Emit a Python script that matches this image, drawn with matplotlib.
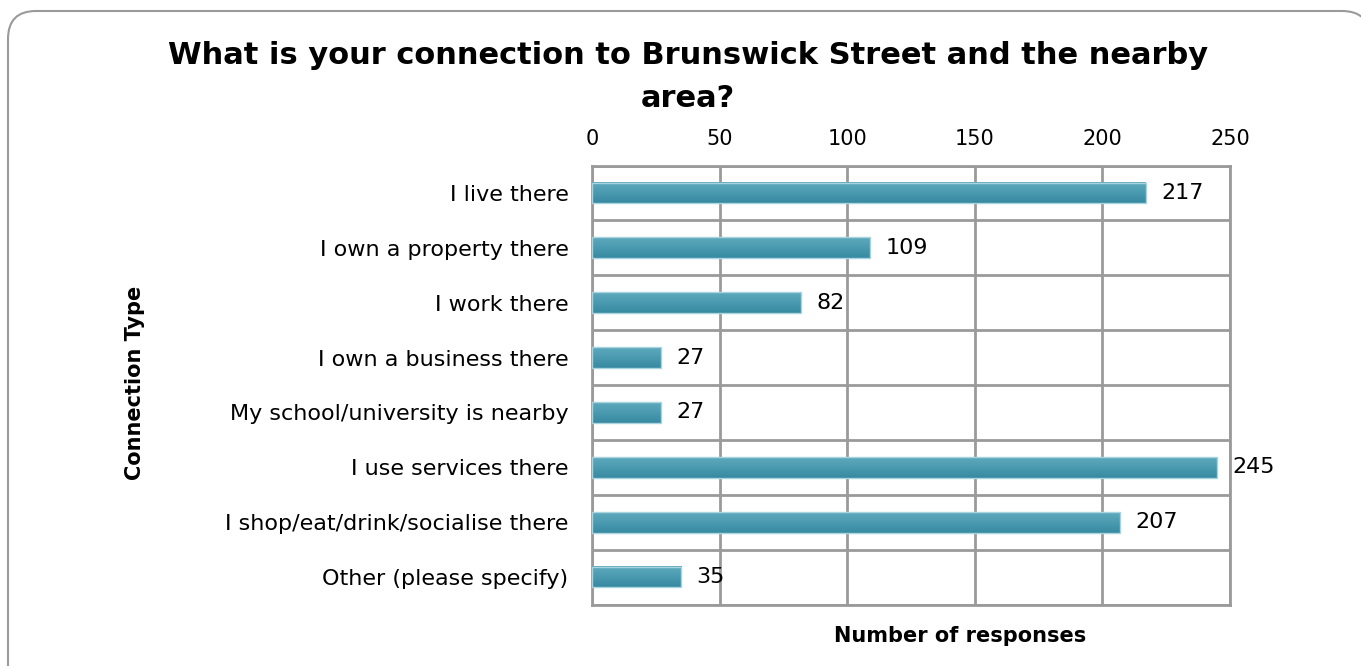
import numpy as np
import matplotlib.pyplot as plt
from matplotlib.patches import FancyBboxPatch
from matplotlib.colors import LinearSegmentedColormap

categorias = ['I live there', 'I own a property there', 'I work there',
              'I own a business there', 'My school/university is nearby',
              'I use services there', 'I shop/eat/drink/socialise there',
              'Other (please specify)']
respuestas = [217, 109, 82, 27, 27, 245, 207, 35]
ticks_x = [0, 50, 100, 150, 200, 250]

gris = '#9a9a9a'

fig = plt.figure(figsize=(13.61, 6.66), dpi=100)

# marco redondeado de la diapositiva (en pulgadas)
marco = FancyBboxPatch((0.08, -0.5), 13.62, 7.05,
                       boxstyle='round,pad=0,rounding_size=0.28',
                       transform=fig.dpi_scale_trans, facecolor='white',
                       edgecolor=gris, linewidth=1.5, zorder=-1)
fig.patches.append(marco)

ax = fig.add_axes([592 / 1361, 1 - 604.5 / 666, (1230 - 592) / 1361, (604.5 - 165.6) / 666])
ax.patch.set_alpha(0)

n = len(categorias)
y = np.arange(n)
alto = 0.38

# barras con degradado
degradado = np.linspace(0, 1, 50).reshape(-1, 1)
cmap = LinearSegmentedColormap.from_list('teal', ['#5eaabd', '#378aa2'])
for i, v in enumerate(respuestas):
    ax.imshow(degradado, cmap=cmap, aspect='auto', extent=(0, v, i + alto / 2, i - alto / 2),
              zorder=3, interpolation='bicubic')
    ax.add_patch(plt.Rectangle((0, i - alto / 2), v, alto, fill=False,
                               edgecolor='#a9d3de', linewidth=1, zorder=4))
    ax.text(v + 6, i, str(v), va='center', ha='left', fontsize=16, zorder=5)

ax.set_xlim(0, 250)
ax.set_ylim(n - 0.5, -0.5)
ax.set_yticks(y)
ax.set_yticklabels(categorias, fontsize=16)
ax.set_yticks(np.arange(-0.5, n, 1), minor=True)
ax.set_xticks(ticks_x)
ax.set_xticklabels([str(t) for t in ticks_x], fontsize=15)
ax.xaxis.tick_top()
ax.tick_params(axis='both', which='both', length=0)
ax.tick_params(axis='x', pad=12)
ax.tick_params(axis='y', pad=17)
ax.grid(axis='x', color=gris, linewidth=2, zorder=1)
ax.grid(axis='y', which='minor', color=gris, linewidth=2, zorder=1)
ax.set_axisbelow(True)
for s in ax.spines.values():
    s.set_color(gris)
    s.set_linewidth(2)

fig.text(960 / 1361, 1 - 636 / 666, 'Number of responses', fontsize=15,
         fontweight='bold', ha='center', va='center')
fig.text(135 / 1361, 1 - 383 / 666, 'Connection Type', rotation=90, fontsize=15,
         fontweight='bold', ha='center', va='center')

fig.text(688 / 1361, 1 - 77 / 666,
         'What is your connection to Brunswick Street and the nearby\narea?',
         ha='center', va='center', fontsize=22, fontweight='bold', linespacing=1.6)

fig.savefig('out.png', dpi=100)
